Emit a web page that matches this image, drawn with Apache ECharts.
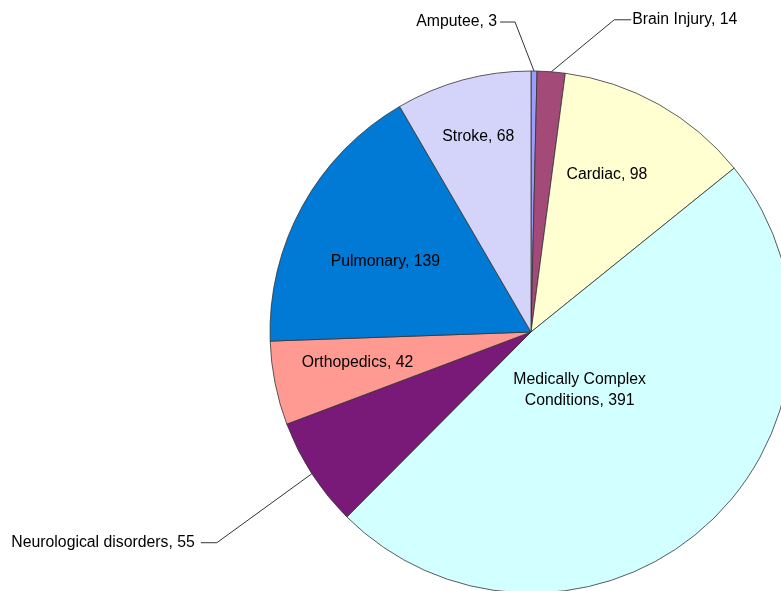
<!DOCTYPE html>
<html>
<head>
<meta charset="utf-8">
<script src="https://cdn.jsdelivr.net/npm/echarts@6/dist/echarts.min.js"></script>
<style>
  html, body { margin: 0; padding: 0; background: #fff; }
  #main { width: 781px; height: 591px; }
</style>
</head>
<body>
<div id="main"></div>
<script>
// data, clockwise from 12 o'clock
var categories = ['Amputee', 'Brain Injury', 'Cardiac', 'Medically Complex\nConditions',
                  'Neurological disorders', 'Orthopedics', 'Pulmonary', 'Stroke'];
var counts = [3, 14, 98, 391, 55, 42, 139, 68];
var colors = ['#9C9CFA', '#A44A78', '#FFFFD2', '#D2FFFF', '#7A1A78', '#FF9A92', '#007AD4', '#D4D4FA'];

// pie geometry
var CX = 531, CY = 332, R = 261;

// labels outside the pie: [elbow dx, elbow dy, horizontal run, gap to text]
var callouts = {
  0: [-19, -49, -15, 3],
  1: [63, -52, 17, 1],
  4: [-95, 69, -16, 6]
};
// labels inside the pie: [radius fraction, angle shift in degrees]
var insideLabels = {
  2: [0.67, -3.6],
  3: [0.29, 2],
  5: [0.675, 1.3],
  6: [0.62, -3],
  7: [0.775, 0]
};

var chart = echarts.init(document.getElementById('main'));

var pieData = categories.map(function (name, i) {
  var outside = callouts[i] != null;
  return {
    name: name,
    value: counts[i],
    itemStyle: { color: colors[i] },
    label: { position: outside ? 'outside' : 'inside' },
    labelLine: { show: outside }
  };
});

var option = {
  backgroundColor: '#ffffff',
  animation: false,
  series: [{
    type: 'pie',
    center: [CX, CY],
    radius: [0, R],
    startAngle: 90,
    clockwise: true,
    avoidLabelOverlap: false,
    itemStyle: { borderColor: '#333', borderWidth: 0.8 },
    label: {
      show: true,
      color: '#000',
      fontFamily: 'Liberation Sans, Arial, sans-serif',
      fontSize: 15.8,
      lineHeight: 21,
      align: 'center',
      formatter: function (p) { return p.name + ', ' + p.value; }
    },
    labelLine: {
      show: true,
      length: 40,
      length2: 15,
      lineStyle: { color: '#333', width: 1 }
    },
    emphasis: { disabled: true },
    labelLayout: function (p) {
      var i = p.dataIndex;
      var c = callouts[i];
      if (c && p.labelLinePoints) {
        var a = p.labelLinePoints[0];
        var elbow = [a[0] + c[0], a[1] + c[1]];
        var end = [elbow[0] + c[2], elbow[1]];
        return {
          x: end[0] + (c[2] < 0 ? -c[3] : c[3]),
          y: end[1],
          align: c[2] < 0 ? 'right' : 'left',
          verticalAlign: 'middle',
          labelLinePoints: [a, elbow, end]
        };
      }
      var s = insideLabels[i];
      if (s) {
        var r = p.labelRect;
        var vx = r.x + r.width / 2 - CX;
        var vy = r.y + r.height / 2 - CY;
        var ang = Math.atan2(vx, -vy) + s[1] * Math.PI / 180;
        return {
          x: CX + s[0] * R * Math.sin(ang),
          y: CY - s[0] * R * Math.cos(ang),
          align: 'center',
          verticalAlign: 'middle'
        };
      }
      return {};
    },
    data: pieData
  }]
};

chart.setOption(option);
</script>
</body>
</html>
